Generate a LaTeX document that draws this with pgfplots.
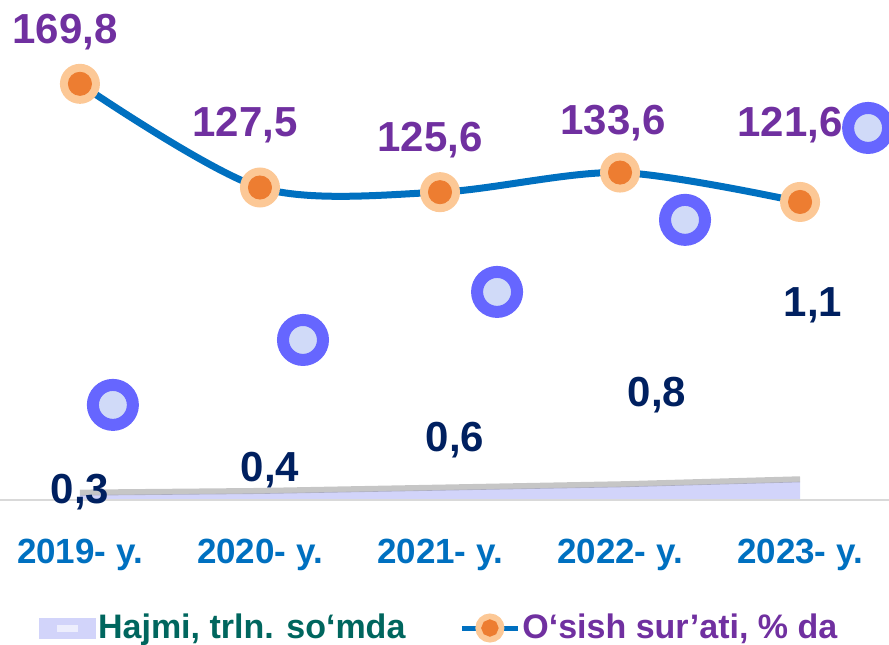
\documentclass[border=0pt]{standalone}
\usepackage{fontspec}
\setmainfont{Liberation Sans}
\usepackage{pgfplots}
\pgfplotsset{compat=1.18}

\definecolor{linblue}{RGB}{0,112,192}
\definecolor{peach}{RGB}{252,200,150}
\definecolor{orng}{RGB}{237,125,49}
\definecolor{lblpurple}{RGB}{112,48,160}
\definecolor{navy}{RGB}{0,32,96}
\definecolor{ring}{RGB}{102,102,255}
\definecolor{ringfill}{RGB}{208,218,248}
\definecolor{lav}{RGB}{210,212,250}
\definecolor{tealtxt}{RGB}{0,102,94}

\pgfplotsset{
  base/.style={width=444.5pt, height=250pt, scale only axis,
    xmin=-0.444, xmax=4.494, clip=false},
}
\tikzset{vlab/.style={font=\bfseries\fontsize{21}{24}\selectfont}}

\begin{document}
\begin{tikzpicture}
% volume (trln so'm) -- own scale
\begin{axis}[base, name=ax1, ymin=0, ymax=30, axis lines=none]
\addplot[fill=lav, draw=none] coordinates {(0,0.3) (1,0.4) (2,0.6) (3,0.8) (4,1.1)} \closedcycle;
\addplot[draw=gray, line width=3pt, opacity=0.45, yshift=1.2pt] coordinates {(0,0.3) (1,0.4) (2,0.6) (3,0.8) (4,1.1)};
\end{axis}

% growth rate, %
\begin{axis}[base, name=ax, ymin=0, ymax=204,
  axis x line=bottom, axis y line=none,
  x axis line style={-, draw=gray!30, line width=1pt},
  xtick={0,1,2,3,4},
  xticklabels={2019- y.,2020- y.,2021- y.,2022- y.,2023- y.},
  major tick length=0,
  xticklabel style={font=\bfseries\fontsize{17.5}{19}\selectfont, text=linblue, inner sep=0pt, yshift=-19.5pt},
  legend columns=2, legend cell align=left,
  legend style={at={(0.037,-0.256)}, anchor=west, draw=none, fill=none,
    font=\bfseries\fontsize{17}{19}\selectfont,
    nodes={inner xsep=1pt},
    /tikz/every even column/.append style={column sep=26pt}},
]
\addplot[only marks, mark=*, mark size=10pt,
  mark options={draw=ring, fill=ringfill, line width=6pt}, forget plot]
  coordinates {(0.183,38.8) (1.239,65.3) (2.317,84.9) (3.361,114.3) (4.378,151.8)};

\addlegendimage{legend image code/.code={
  \fill[lav] (0pt,-5pt) rectangle (28pt,5pt);
  \fill[lav!40!white] (9pt,-1.5pt) rectangle (19pt,1.5pt);}}
\addlegendentry{\textcolor{tealtxt}{Hajmi, trln. so‘mda}}

\addplot[linblue, line width=3.5pt, smooth, mark=*, mark size=9pt,
  mark options={draw=peach, fill=peach, line width=2pt},
  legend image code/.code={
    \draw[linblue, line width=2.5pt] (0pt,0pt) -- (28pt,0pt);
    \fill[peach] (14pt,0pt) circle (5.5pt);
    \fill[orng] (14pt,0pt) circle (2.5pt);}]
  coordinates {(0,169.8) (1,127.5) (2,125.6) (3,133.6) (4,121.6)};
\addlegendentry{\textcolor{lblpurple}{O‘sish sur’ati, \% da}}
\addplot[only marks, mark=*, mark size=5.8pt, mark options={draw=orng, fill=orng, line width=0.4pt}, forget plot]
  coordinates {(0,169.8) (1,127.5) (2,125.6) (3,133.6) (4,121.6)};

\node[vlab, text=lblpurple] at (axis cs:-0.083,191) {169,8};
\node[vlab, text=lblpurple] at (axis cs:0.917,153) {127,5};
\node[vlab, text=lblpurple] at (axis cs:1.944,147) {125,6};
\node[vlab, text=lblpurple] at (axis cs:2.961,153.9) {133,6};
\node[vlab, text=lblpurple] at (axis cs:3.944,153) {121,6};

\node[vlab, text=navy] at (axis cs:0,3.3) {0,3};
\node[vlab, text=navy] at (axis cs:1.056,12.2) {0,4};
\node[vlab, text=navy] at (axis cs:2.083,24.5) {0,6};
\node[vlab, text=navy] at (axis cs:3.206,42.9) {0,8};
\node[vlab, text=navy] at (axis cs:4.072,79.6) {1,1};
\end{axis}
\pgfresetboundingbox
\path[use as bounding box] ([yshift=-72pt]ax.south west) rectangle (ax.north east);
\end{tikzpicture}
\end{document}
